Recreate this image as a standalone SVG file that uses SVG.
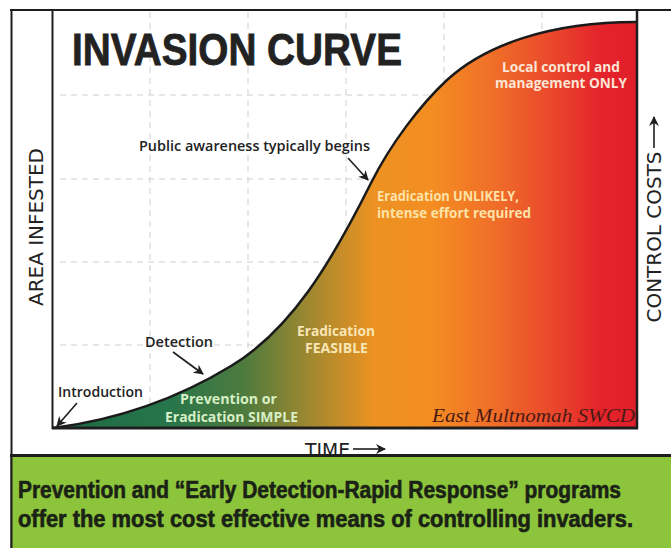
<svg xmlns="http://www.w3.org/2000/svg" width="671" height="548" viewBox="0 0 671 548">
<style>
.frame{stroke:#1e1e1e;fill:none}
.grid{stroke:#cfcfcf;stroke-width:1;stroke-dasharray:6 5;fill:none}
.lbl{font-family:"Open Sans","Liberation Sans",sans-serif;font-weight:600;font-size:14px;fill:#222}
.inlbl{font-family:"Open Sans","Liberation Sans",sans-serif;font-weight:700;font-size:14px}
.axis{font-family:"DejaVu Sans","Liberation Sans",sans-serif;font-size:19px;fill:#222}
.arrow{stroke:#1e1e1e;stroke-width:1.6;fill:none;marker-end:url(#ah)}
.msg{font-family:"Liberation Sans Narrow","Liberation Sans",sans-serif;font-weight:bold;font-size:23px;fill:#1a2216;stroke:#1a2216;stroke-width:0.6}
</style>
<defs>
<linearGradient id="fillGrad" gradientUnits="userSpaceOnUse" x1="53" y1="0" x2="636" y2="0">
<stop offset="0" stop-color="#1b6b45"/>
<stop offset="0.2" stop-color="#27754a"/>
<stop offset="0.33" stop-color="#4f7b3e"/>
<stop offset="0.44" stop-color="#a08830"/>
<stop offset="0.55" stop-color="#ec9222"/>
<stop offset="0.65" stop-color="#f48d22"/>
<stop offset="0.75" stop-color="#f07028"/>
<stop offset="0.85" stop-color="#ea4a2c"/>
<stop offset="0.94" stop-color="#e4232b"/>
<stop offset="1" stop-color="#e01f2a"/>
</linearGradient>
<marker id="ah" markerUnits="userSpaceOnUse" markerWidth="10" markerHeight="10" viewBox="0 0 10 10" refX="9" refY="5" orient="auto">
<path d="M0,0 L10,5 L0,10 L3,5 Z" fill="#1e1e1e"/>
</marker>
</defs>
<rect x="0" y="0" width="671" height="548" fill="#ffffff"/>

<g id="grid">
<line class="grid" x1="150" y1="12" x2="150" y2="428"/>
<line class="grid" x1="248" y1="12" x2="248" y2="428"/>
<line class="grid" x1="346" y1="12" x2="346" y2="428"/>
<line class="grid" x1="444" y1="12" x2="444" y2="428"/>
<line class="grid" x1="542" y1="12" x2="542" y2="428"/>
<line class="grid" x1="60" y1="95" x2="636" y2="95"/>
<line class="grid" x1="60" y1="179" x2="636" y2="179"/>
<line class="grid" x1="60" y1="262" x2="636" y2="262"/>
<line class="grid" x1="60" y1="345" x2="636" y2="345"/>
</g>

<g id="curve">
<path d="M53,428 C130,418 190,391 231,366 C291,330 331,263 371,183 C390,145 420,105 447,80 C485,45 550,22 636,22 L636,428 L53,428 Z" fill="url(#fillGrad)"/>
<path d="M53,428 C130,418 190,391 231,366 C291,330 331,263 371,183 C390,145 420,105 447,80 C485,45 550,22 636,22" fill="none" stroke="#1a1a1a" stroke-width="2.5"/>
</g>

<g id="frame">
<line class="frame" x1="10" y1="10" x2="671" y2="10" stroke-width="2"/>
<line class="frame" x1="11.5" y1="10" x2="11.5" y2="548" stroke-width="2"/>
<line class="frame" x1="52.5" y1="10" x2="52.5" y2="429" stroke-width="2"/>
<line class="frame" x1="637" y1="10" x2="637" y2="429" stroke-width="2.5"/>
<line class="frame" x1="52" y1="428" x2="638" y2="428" stroke-width="3"/>
</g>

<g id="title">
<text x="72" y="65" font-family="Liberation Sans Narrow, Liberation Sans, sans-serif" font-weight="bold" font-size="44" fill="#222" stroke="#222" stroke-width="0.8" textLength="330" lengthAdjust="spacingAndGlyphs">INVASION CURVE</text>
</g>

<g id="area-infested">
<text class="axis" transform="translate(43,227) rotate(-90)" x="0" y="0" text-anchor="middle" textLength="158" lengthAdjust="spacingAndGlyphs">AREA INFESTED</text>
</g>

<g id="control-costs">
<text class="axis" transform="translate(661,237) rotate(-90)" x="0" y="0" text-anchor="middle" textLength="171" lengthAdjust="spacingAndGlyphs">CONTROL COSTS</text>
</g>

<g id="time">
<text class="axis" x="305" y="457" textLength="45" lengthAdjust="spacingAndGlyphs">TIME</text>
</g>

<g id="local-control">
<text class="inlbl" fill="#fde6d6" x="502" y="72" textLength="118" lengthAdjust="spacingAndGlyphs">Local control and</text>
<text class="inlbl" fill="#fde6d6" x="495" y="88" textLength="132" lengthAdjust="spacingAndGlyphs">management ONLY</text>
</g>

<g id="public-awareness">
<text class="lbl" x="139" y="151" textLength="231" lengthAdjust="spacingAndGlyphs">Public awareness typically begins</text>
</g>

<g id="eradication-unlikely">
<text class="inlbl" fill="#fde3a8" x="377" y="201" textLength="142" lengthAdjust="spacingAndGlyphs">Eradication UNLIKELY,</text>
<text class="inlbl" fill="#fde3a8" x="377" y="218" textLength="154" lengthAdjust="spacingAndGlyphs">intense effort required</text>
</g>

<g id="eradication-feasible">
<text class="inlbl" fill="#f8e6b4" x="297" y="336" textLength="78" lengthAdjust="spacingAndGlyphs">Eradication</text>
<text class="inlbl" fill="#f8e6b4" x="305" y="353" textLength="63" lengthAdjust="spacingAndGlyphs">FEASIBLE</text>
</g>

<g id="detection">
<text class="lbl" x="145" y="347" textLength="68" lengthAdjust="spacingAndGlyphs">Detection</text>
</g>

<g id="introduction">
<text class="lbl" x="58" y="397" textLength="85" lengthAdjust="spacingAndGlyphs">Introduction</text>
</g>

<g id="prevention-simple">
<text class="inlbl" fill="#d6efc6" x="180" y="404" textLength="97" lengthAdjust="spacingAndGlyphs">Prevention or</text>
<text class="inlbl" fill="#d6efc6" x="165" y="422" textLength="133" lengthAdjust="spacingAndGlyphs">Eradication SIMPLE</text>
</g>

<g id="credit">
<text x="432" y="422" font-family="Liberation Serif, serif" font-style="italic" font-size="19" fill="#4a1a14" textLength="203" lengthAdjust="spacingAndGlyphs">East Multnomah SWCD</text>
</g>

<g id="connectors">
<line class="arrow" x1="348" y1="158" x2="368" y2="180"/>
<line class="arrow" x1="173" y1="352" x2="203" y2="374"/>
<line class="arrow" x1="77" y1="403" x2="57" y2="426"/>
<line class="arrow" x1="353" y1="449" x2="385" y2="449"/>
<line class="arrow" x1="654" y1="148" x2="654" y2="117"/>
</g>

<g id="message">
<rect x="11" y="455" width="660" height="93" fill="#8cc43c"/>
<line x1="10" y1="455.5" x2="671" y2="455.5" stroke="#1e1e1e" stroke-width="3"/>
<line class="frame" x1="11.5" y1="455" x2="11.5" y2="548" stroke-width="2"/>
<text class="msg" x="18" y="498" textLength="603" lengthAdjust="spacingAndGlyphs">Prevention and “Early Detection-Rapid Response” programs</text>
<text class="msg" x="18" y="527" textLength="615" lengthAdjust="spacingAndGlyphs">offer the most cost effective means of controlling invaders.</text>
</g>
</svg>
